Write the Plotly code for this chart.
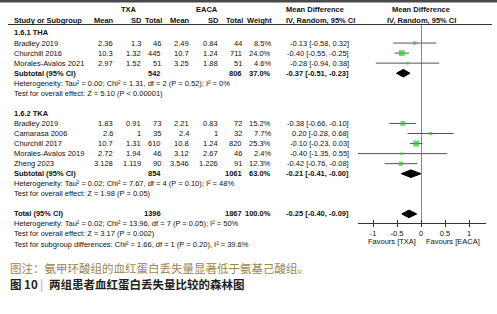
import plotly.graph_objects as go

W, H = 497, 314
FONT = "Liberation Sans, Arial, sans-serif"
CJK = "Noto Sans CJK SC, sans-serif"

# ---------------- data ----------------
group1_title = "1.6.1 THA"
g1_studies = ["Bradley 2019", "Churchill 2016", "Morales-Avalos 2021"]
g1_txa_mean = ["2.36", "10.3", "2.97"]
g1_txa_sd = ["1.3", "1.32", "1.52"]
g1_txa_n = ["46", "445", "51"]
g1_eaca_mean = ["2.49", "10.7", "3.25"]
g1_eaca_sd = ["0.84", "1.24", "1.88"]
g1_eaca_n = ["44", "711", "51"]
g1_weight = [8.5, 24.0, 4.6]
g1_md = [-0.13, -0.40, -0.28]
g1_lo = [-0.58, -0.55, -0.94]
g1_hi = [0.32, -0.25, 0.38]
g1_sub = dict(n1="542", n2="806", w="37.0%", md=-0.37, lo=-0.51, hi=-0.23,
              het="Heterogeneity: Tau² = 0.00; Chi² = 1.31, df = 2 (P = 0.52); I² = 0%",
              test="Test for overall effect: Z = 5.10 (P < 0.00001)")

group2_title = "1.6.2 TKA"
g2_studies = ["Bradley 2019", "Camarasa 2006", "Churchill 2017", "Morales-Avalos 2019", "Zheng 2023"]
g2_txa_mean = ["1.83", "2.6", "10.7", "2.72", "3.128"]
g2_txa_sd = ["0.91", "1", "1.31", "1.94", "1.119"]
g2_txa_n = ["73", "35", "610", "46", "90"]
g2_eaca_mean = ["2.21", "2.4", "10.8", "3.12", "3.546"]
g2_eaca_sd = ["0.83", "1", "1.24", "2.67", "1.226"]
g2_eaca_n = ["72", "32", "820", "46", "91"]
g2_weight = [15.2, 7.7, 25.3, 2.4, 12.3]
g2_md = [-0.38, 0.20, -0.10, -0.40, -0.42]
g2_lo = [-0.66, -0.28, -0.23, -1.35, -0.76]
g2_hi = [-0.10, 0.68, 0.03, 0.55, -0.08]
g2_sub = dict(n1="854", n2="1061", w="63.0%", md=-0.21, lo=-0.41, hi=-0.00,
              het="Heterogeneity: Tau² = 0.02; Chi² = 7.67, df = 4 (P = 0.10); I² = 48%",
              test="Test for overall effect: Z = 1.98 (P = 0.05)")

total = dict(n1="1396", n2="1867", w="100.0%", md=-0.25, lo=-0.40, hi=-0.09,
             het="Heterogeneity: Tau² = 0.02; Chi² = 13.96, df = 7 (P = 0.05); I² = 50%",
             test="Test for overall effect: Z = 3.17 (P = 0.002)",
             sub="Test for subgroup differences: Chi² = 1.66, df = 1 (P = 0.20), I² = 39.6%")

x_ticks = [-1, -0.5, 0, 0.5, 1]
x_tick_labels = ["-1", "-0.5", "0", "0.5", "1"]
favours_left = "Favours [TXA]"
favours_right = "Favours [EACA]"
caption1 = "图注：氨甲环酸组的血红蛋白丢失量显著低于氨基己酸组。"
caption2_label = "图 10"
caption2_text = "两组患者血红蛋白丢失量比较的森林图"

# ---------------- layout geometry ----------------
ROW0, ROWH = 33.0, 10.05          # pixel y of row 0, row spacing
def row_px(r):
    return ROW0 + ROWH * r
def px_to_row(p):
    return (p - ROW0) / ROWH

AX_Y, TOP_Y = 223.0, 25.0
X0PX, X1PX, ZPX, UNIT = 358.0, 486.0, 421.0, 48.0
xr = [(X0PX - ZPX) / UNIT, (X1PX - ZPX) / UNIT]
yr = [px_to_row(AX_Y), px_to_row(TOP_Y)]
FS = 7.5

def fmt_ci(m, l, h):
    return f"{m:.2f} [{l:.2f}, {h:.2f}]"

rows = []
rows.append(("title", group1_title))
for i in range(len(g1_studies)):
    rows.append(("study", (g1_studies[i], g1_txa_mean[i], g1_txa_sd[i], g1_txa_n[i],
                           g1_eaca_mean[i], g1_eaca_sd[i], g1_eaca_n[i], g1_weight[i],
                           g1_md[i], g1_lo[i], g1_hi[i])))
rows.append(("subtotal", g1_sub))
rows.append(("note", g1_sub["het"]))
rows.append(("note", g1_sub["test"]))
rows.append(("blank", None))
rows.append(("title", group2_title))
for i in range(len(g2_studies)):
    rows.append(("study", (g2_studies[i], g2_txa_mean[i], g2_txa_sd[i], g2_txa_n[i],
                           g2_eaca_mean[i], g2_eaca_sd[i], g2_eaca_n[i], g2_weight[i],
                           g2_md[i], g2_lo[i], g2_hi[i])))
rows.append(("subtotal", g2_sub))
rows.append(("note", g2_sub["het"]))
rows.append(("note", g2_sub["test"]))
rows.append(("blank", None))
rows.append(("total", total))
rows.append(("note", total["het"]))
rows.append(("note", total["test"]))
rows.append(("note", total["sub"]))

COLS = {"name": 12, "m1": 115, "s1": 143, "n1": 163, "m2": 191, "s2": 220, "n2": 244,
        "w": 273, "ci": 351}

annots = []
def ptxt(text, xpx, ypx, anchor="center", bold=False, size=FS, color="#111", family=FONT):
    annots.append(dict(
        text=f"<b>{text}</b>" if bold else text,
        x=xpx / W, xref="paper", y=1 - ypx / H, yref="paper",
        xanchor=anchor, yanchor="middle", showarrow=False,
        font=dict(family=family, size=size, color=color)))

def txt(text, xpx, row, anchor="right", bold=False, size=FS, color="#111"):
    ptxt(text, xpx, row_px(row), anchor, bold, size, color)

ci_x, ci_y, sq_x, sq_y, sq_s = [], [], [], [], []
dia_x, dia_y = [], []

for r, (kind, p) in enumerate(rows):
    if kind == "title":
        txt(p, COLS["name"], r, "left", bold=True)
    elif kind == "study":
        name, m1, s1, n1, m2, s2, n2, w, md, lo, hi = p
        txt(name, COLS["name"], r, "left")
        for key, v in zip(["m1", "s1", "n1", "m2", "s2", "n2"], [m1, s1, n1, m2, s2, n2]):
            txt(v, COLS[key], r)
        txt(f"{w:.1f}%", COLS["w"], r)
        txt(fmt_ci(md, lo, hi), COLS["ci"], r)
        ci_x += [lo, hi, None]
        ci_y += [r, r, None]
        sq_x.append(md)
        sq_y.append(r)
        sq_s.append(max(2.5, 1.2 * w ** 0.5))
    elif kind in ("subtotal", "total"):
        label = "Subtotal (95% CI)" if kind == "subtotal" else "Total (95% CI)"
        txt(label, COLS["name"], r, "left", bold=True)
        txt(p["n1"], COLS["n1"], r, bold=True)
        txt(p["n2"], COLS["n2"], r, bold=True)
        txt(p["w"], COLS["w"], r, bold=True)
        txt(fmt_ci(p["md"], p["lo"], p["hi"]), COLS["ci"], r, bold=True)
        hh = 0.38
        dia_x += [p["lo"], p["md"], p["hi"], p["md"], p["lo"], None]
        dia_y += [r, r - hh, r, r + hh, r, None]
    elif kind == "note":
        txt(p, COLS["name"], r, "left")

# headers
ptxt("TXA", 129, 10, bold=True)
ptxt("EACA", 207, 10, bold=True)
ptxt("Study or Subgroup", 12, 20.5, "left", bold=True)
for key, lab in [("m1", "Mean"), ("s1", "SD"), ("n1", "Total"), ("m2", "Mean"),
                 ("s2", "SD"), ("n2", "Total"), ("w", "Weight")]:
    ptxt(lab, COLS[key] + 1, 20.5, "right", bold=True)
ptxt("Mean Difference", 284, 10, "left", bold=True)
ptxt("IV, Random, 95% CI", 284, 20.5, "left", bold=True)
ptxt("Mean Difference", ZPX, 10, "center", bold=True)
ptxt("IV, Random, 95% CI", ZPX, 20.5, "center", bold=True)

ptxt(favours_left, ZPX - 3, 241, "right")
ptxt(favours_right, ZPX + 3, 241, "left")

# caption
ptxt(caption1, 8, 268, "left", size=11.5, color="#9c8650", family=CJK)
ptxt(caption2_label, 8, 284, "left", bold=True, size=11.5, color="#222", family=CJK)
ptxt("|", 41, 284, "center", size=11.5, color="#6fa8dc", family=CJK)
ptxt(caption2_text, 47, 284, "left", bold=True, size=11.5, color="#222", family=CJK)

fig = go.Figure()
fig.add_trace(go.Scatter(x=ci_x, y=ci_y, mode="lines", line=dict(color="#555", width=1),
                         hoverinfo="skip", showlegend=False))
fig.add_trace(go.Scatter(x=sq_x, y=sq_y, mode="markers",
                         marker=dict(symbol="square", size=sq_s, color="#22cc22", line=dict(width=0)),
                         showlegend=False))
fig.add_trace(go.Scatter(x=dia_x, y=dia_y, mode="lines", fill="toself", fillcolor="#000",
                         line=dict(color="#000", width=1), showlegend=False))
fig.add_trace(go.Scatter(x=[0], y=[0], xaxis="x2", mode="markers", marker=dict(opacity=0),
                         showlegend=False, hoverinfo="skip"))

fig.update_layout(
    width=W, height=H, margin=dict(l=0, r=0, t=0, b=0),
    paper_bgcolor="white", plot_bgcolor="white",
    annotations=annots,
    xaxis=dict(domain=[X0PX / W, X1PX / W], range=xr, tickvals=x_ticks, ticktext=x_tick_labels,
               ticks="outside", ticklen=3, tickcolor="#333", showline=True, linecolor="#333",
               linewidth=1, showgrid=False, zeroline=True, zerolinecolor="#888", zerolinewidth=1,
               tickfont=dict(family=FONT, size=FS, color="#111"), anchor="y", fixedrange=True),
    xaxis2=dict(domain=[X0PX / W, X1PX / W], range=xr, tickvals=x_ticks, showticklabels=False,
                ticks="inside", ticklen=3, tickcolor="#333", overlaying="x", anchor="y",
                showgrid=False, zeroline=False, showline=False),
    yaxis=dict(domain=[1 - AX_Y / H, 1 - TOP_Y / H], range=yr, visible=False, showgrid=False,
               zeroline=False),
    shapes=[
        dict(type="rect", xref="paper", yref="paper", x0=0, x1=1, y0=1 - 2.5 / H, y1=1,
             fillcolor="#4a4a4a", line=dict(width=0)),
        dict(type="line", xref="paper", yref="paper", x0=8 / W, x1=492 / W,
             y0=1 - 24.5 / H, y1=1 - 24.5 / H, line=dict(color="#333", width=1)),
    ],
)

fig.write_html("out.html", config={"displayModeBar": False},
               post_script="document.body.style.margin='0';document.body.style.overflow='hidden';")
